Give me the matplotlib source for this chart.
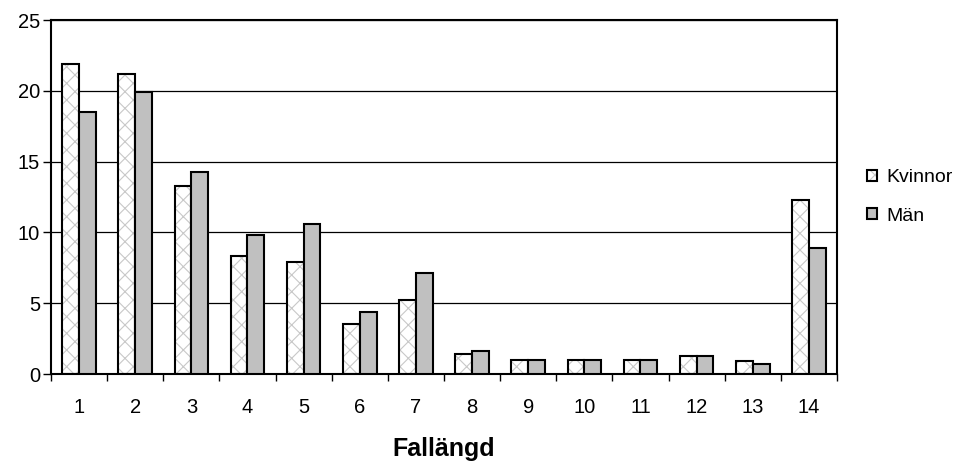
import matplotlib
matplotlib.use("Agg")
import matplotlib.pyplot as plt
import numpy as np

plt.rcParams["font.family"] = ["Liberation Sans", "DejaVu Sans"]
plt.rcParams["hatch.linewidth"] = 0.8

categories = [str(i) for i in range(1, 15)]
kvinnor = [21.9, 21.2, 13.3, 8.3, 7.9, 3.5, 5.2, 1.4, 1.0, 1.0, 1.0, 1.3, 0.9, 12.3]
man = [18.5, 19.9, 14.3, 9.8, 10.6, 4.4, 7.1, 1.6, 1.0, 1.0, 1.0, 1.3, 0.7, 8.9]
yticks = [0, 5, 10, 15, 20, 25]

fig = plt.figure(figsize=(9.62, 4.66), dpi=100)
ax = fig.add_axes([51 / 962, 1 - 374 / 466, 786 / 962, 354 / 466])

x = np.arange(len(categories))
w = 0.3

ax.set_axisbelow(True)
ax.yaxis.grid(True, color="black", linewidth=0.9)

# hatched women bars: light grey cross-hatch, then black outline on top
k_fill = ax.bar(x - w / 2, kvinnor, w, facecolor="white", edgecolor="#c8c8c8",
                hatch="xx", linewidth=0, zorder=2)
k_edge = ax.bar(x - w / 2, kvinnor, w, facecolor="none", edgecolor="black",
                linewidth=1.5, zorder=3)
m_bars = ax.bar(x + w / 2, man, w, facecolor="#c0c0c0", edgecolor="black",
                linewidth=1.5, zorder=3)

ax.set_xlim(-0.5, len(categories) - 0.5)
ax.set_ylim(0, 25)
ax.set_yticks(yticks)
ax.set_xticks(x)
ax.set_xticklabels(categories)
ax.set_xticks(np.arange(-0.5, len(categories)), minor=True)
ax.tick_params(axis="x", which="major", length=0, pad=17, labelsize=14.5)
ax.tick_params(axis="x", which="minor", length=5, width=1)
ax.tick_params(axis="y", length=6, width=1, pad=2, labelsize=14.5)

for s in ax.spines.values():
    s.set_linewidth(1.5)

ax.set_xlabel("Fallängd", fontsize=18, fontweight="bold", labelpad=15)

fig.legend([(k_fill[0], k_edge[0]), m_bars[0]], ["Kvinnor", "Män"],
           loc="center left", bbox_to_anchor=(867 / 962, 1 - 197 / 466),
           frameon=False, fontsize=14, handlelength=0.5, handleheight=0.5,
           handletextpad=0.5, labelspacing=1.1, borderpad=0, borderaxespad=0)

fig.savefig("out.png", dpi=100)
